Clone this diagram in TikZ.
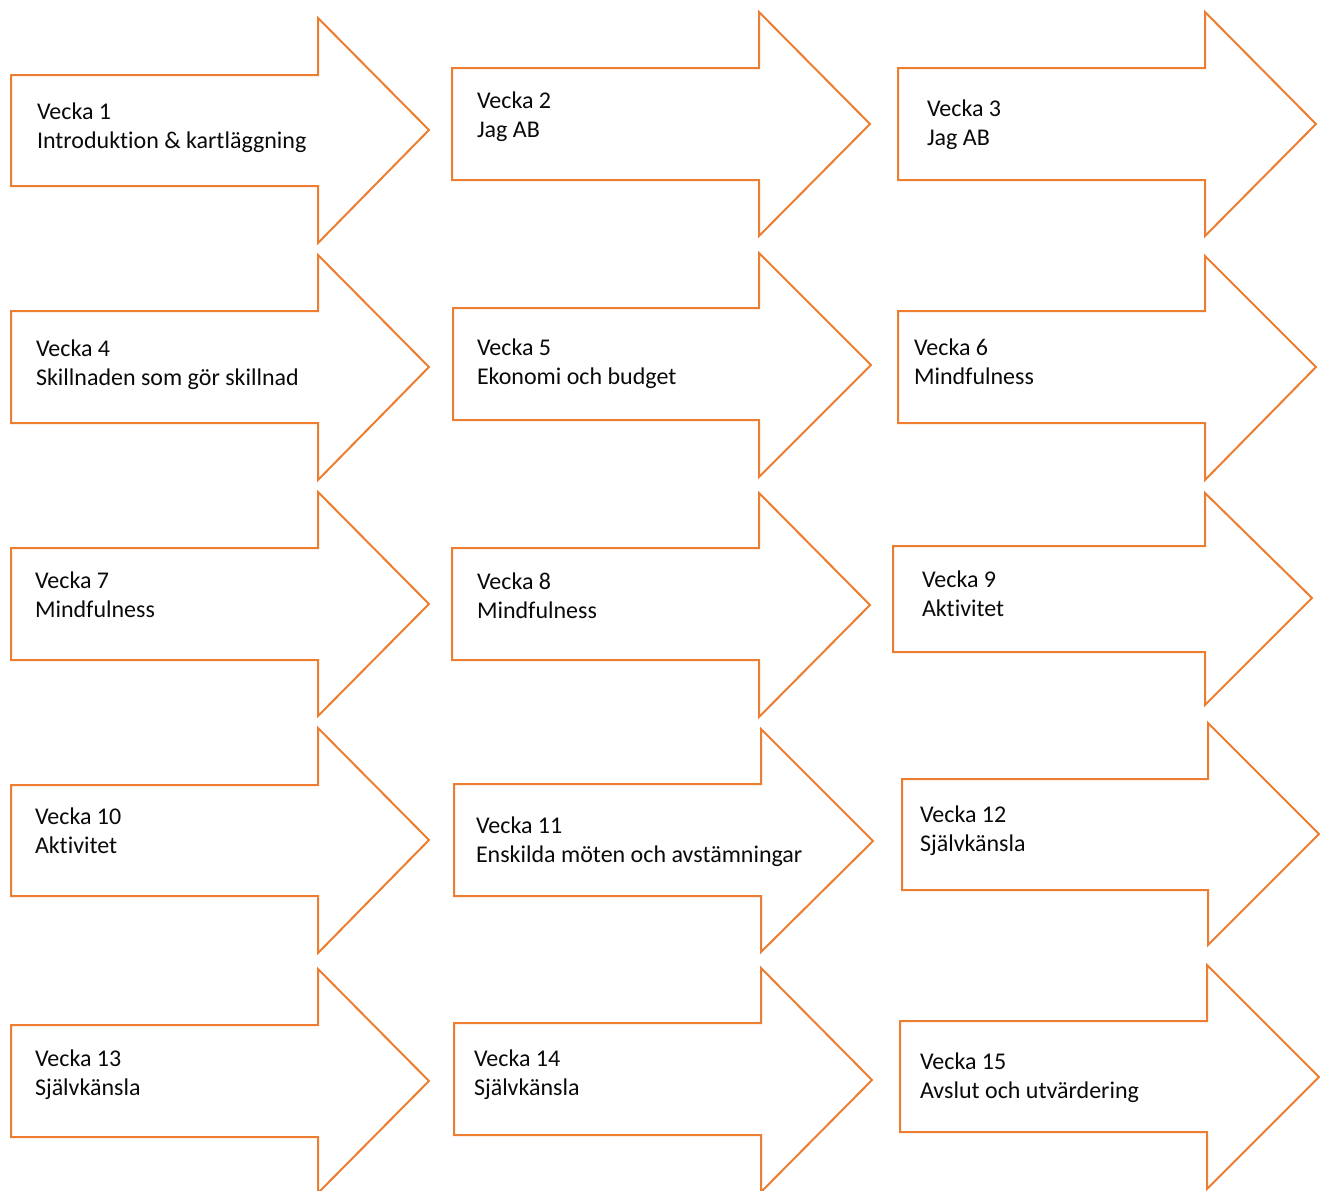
\documentclass[tikz,border=0pt]{standalone}
\usepackage{fontspec}
\setmainfont[Ligatures=CommonOff]{Carlito}
\definecolor{arroworange}{HTML}{ED7D31}
\definecolor{labeltext}{HTML}{0A0A0A}
\tikzset{
  weekarrow/.style={draw=arroworange, line width=2pt, line join=miter, fill=white},
  weeklabel/.style={anchor=base west, inner sep=0pt, outer sep=0pt, text=labeltext,
    font=\fontsize{24}{29}\selectfont}
}
% #1 name, #2 left, #3 top, #4 bottom, #5 head x, #6 head top, #7 head bottom,
% #8 tip x, #9 tip y
\newcommand{\weekshape}[9]{%
  \draw[weekarrow] (#2,#3) -- (#5,#3) -- (#5,#6) -- (#8,#9) -- (#5,#7) -- (#5,#4) -- (#2,#4) -- cycle;
  \coordinate (#1) at (#2,#3);
}
% #1 name, #2 text x, #3 baseline, #4 line1, #5 line2
\newcommand{\weektext}[5]{%
  \node[weeklabel] (#1t) at (#2,#3) {#4};
  \node[weeklabel] (#1s) at (#2,#3+29) {#5};
}
\begin{document}
\begin{tikzpicture}[x=1pt,y=-1pt]
\useasboundingbox (0,0) rectangle (1326,1191);
% row 1
\weekshape{a1}{11}{75}{186}{318}{18}{243}{429}{130}
\weektext{a1}{37}{119}{Vecka 1}{Introduktion \& kartläggning}
\weekshape{a2}{452}{68}{180}{759}{12}{236}{870}{124}
\weektext{a2}{477}{108}{Vecka 2}{Jag AB}
\weekshape{a3}{898}{68}{180}{1205}{12}{236}{1316}{124}
\weektext{a3}{927}{116}{Vecka 3}{Jag AB}
% row 2
\weekshape{a4}{11}{311}{423}{318}{255}{480}{429}{367}
\weektext{a4}{36}{356}{Vecka 4}{Skillnaden som gör skillnad}
\weekshape{a5}{453}{308}{420}{759}{253}{477}{871}{365}
\weektext{a5}{477}{355}{Vecka 5}{Ekonomi och budget}
\weekshape{a6}{898}{311}{423}{1205}{256}{480}{1316}{367}
\weektext{a6}{914}{355}{Vecka 6}{Mindfulness}
% row 3
\weekshape{a7}{11}{548}{660}{318}{492}{716}{429}{604}
\weektext{a7}{35}{588}{Vecka 7}{Mindfulness}
\weekshape{a8}{452}{548}{660}{759}{493}{717}{870}{605}
\weektext{a8}{477}{589}{Vecka 8}{Mindfulness}
\weekshape{a9}{893}{546}{652}{1205}{493}{705}{1312}{598}
\weektext{a9}{922}{587}{Vecka 9}{Aktivitet}
% row 4
\weekshape{a10}{11}{785}{896}{318}{728}{953}{429}{840}
\weektext{a10}{35}{824}{Vecka 10}{Aktivitet}
\weekshape{a11}{454}{784}{896}{761}{729}{952}{873}{841}
\weektext{a11}{476}{833}{Vecka 11}{Enskilda möten och avstämningar}
\weekshape{a12}{902}{779}{890}{1208}{723}{945}{1319}{834}
\weektext{a12}{920}{822}{Vecka 12}{Självkänsla}
% row 5
\weekshape{a13}{11}{1025}{1137}{318}{969}{1193}{429}{1081}
\weektext{a13}{35}{1066}{Vecka 13}{Självkänsla}
\weekshape{a14}{454}{1023}{1135}{761}{968}{1192}{872}{1080}
\weektext{a14}{474}{1066}{Vecka 14}{Självkänsla}
\weekshape{a15}{900}{1021}{1132}{1207}{965}{1189}{1319}{1077}
\weektext{a15}{920}{1069}{Vecka 15}{Avslut och utvärdering}
\end{tikzpicture}
\end{document}
